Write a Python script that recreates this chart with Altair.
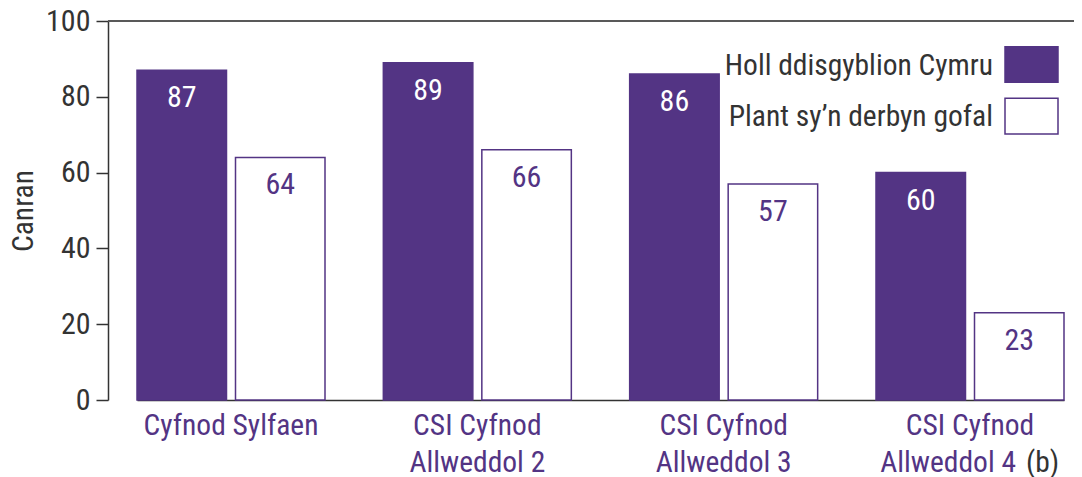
import altair as alt
import pandas as pd

# ---- data ----
categories = ["Cyfnod Sylfaen", "CSI Cyfnod Allweddol 2", "CSI Cyfnod Allweddol 3", "CSI Cyfnod Allweddol 4"]
label_line1 = ["Cyfnod Sylfaen", "CSI Cyfnod", "CSI Cyfnod", "CSI Cyfnod"]
label_line2 = ["", "Allweddol 2", "Allweddol 3", "Allweddol 4"]
label_note = ["", "", "", "(b)"]
series = ["Holl ddisgyblion Cymru", "Plant sy\u2019n derbyn gofal"]
all_pupils = [87, 89, 86, 60]
looked_after = [64, 66, 57, 23]
y_ticks = [0, 20, 40, 60, 80, 100]
y_title = "Canran"

# ---- style ----
PURPLE = "#533484"
GREY = "#333333"
FONT = "Noto Sans Condensed, Roboto Condensed, Roboto"
FS = 30
FSW = 29.5

rows = []
for c, a, b in zip(categories, all_pupils, looked_after):
    rows.append({"category": c, "series": series[0], "value": a})
    rows.append({"category": c, "series": series[1], "value": b})
df = pd.DataFrame(rows)

labels_df = pd.DataFrame({"category": categories, "line1": label_line1,
                          "line2": label_line2, "note": label_note})

x_enc = alt.X("category:N", sort=categories,
              scale=alt.Scale(range=[29, 956], paddingInner=0.2368, paddingOuter=0),
              axis=alt.Axis(labels=False, ticks=False, title=None,
                            domainColor=GREY, domainWidth=1.5))
xoff_enc = alt.XOffset("series:N", sort=series,
                       scale=alt.Scale(paddingInner=0.0914, paddingOuter=0))
y_enc = alt.Y("value:Q", scale=alt.Scale(domain=[0, 100], nice=False),
              axis=alt.Axis(values=y_ticks, title=y_title, grid=False,
                            domainColor=GREY, domainWidth=1.5,
                            tickColor=GREY, tickWidth=1.5, tickSize=12,
                            labelFont=FONT, labelFontSize=FS, labelColor=GREY,
                            labelPadding=6, titleFont=FONT, titleFontSize=FSW,
                            titleFontWeight="normal", titleColor=GREY,
                            titleAngle=-90, titleBaseline="alphabetic",
                            titleAlign="center", titleX=-76, titleY=189.5))

base = alt.Chart(df)

bars = base.mark_bar(stroke=PURPLE, strokeWidth=1.5).encode(
    x=x_enc, xOffset=xoff_enc, y=y_enc,
    fill=alt.Fill("series:N", sort=series,
                  scale=alt.Scale(domain=series, range=[PURPLE, "white"]),
                  legend=None),
)

values = base.mark_text(font=FONT, fontSize=FS, baseline="alphabetic", dy=37).encode(
    x=alt.X("category:N", sort=categories),
    xOffset=alt.XOffset("series:N", sort=series),
    y=alt.Y("value:Q"),
    text=alt.Text("value:Q"),
    color=alt.condition(alt.datum.series == series[0], alt.value("white"), alt.value(PURPLE)),
)

top_rule = alt.Chart(df).mark_rule(color="#5a5a5a", strokeWidth=1.5).encode(
    y=alt.datum(100)
)

lab = alt.Chart(labels_df)
line1 = lab.mark_text(font=FONT, fontSize=FSW, color=PURPLE, baseline="alphabetic").encode(
    x=alt.X("category:N", sort=categories), y=alt.value(414), text="line1:N")
line2 = lab.transform_filter(alt.datum.note == "").mark_text(
    font=FONT, fontSize=FSW, color=PURPLE, baseline="alphabetic").encode(
    x=alt.X("category:N", sort=categories), y=alt.value(451), text="line2:N")
line2n = lab.transform_filter(alt.datum.note != "").mark_text(
    font=FONT, fontSize=FSW, color=PURPLE, baseline="alphabetic", align="right", dx=46).encode(
    x=alt.X("category:N", sort=categories), y=alt.value(451), text="line2:N")
note = lab.transform_filter(alt.datum.note != "").mark_text(
    font=FONT, fontSize=FSW, color=GREY, baseline="alphabetic", align="left", dx=56).encode(
    x=alt.X("category:N", sort=categories), y=alt.value(451), text="note:N")

# ---- legend (manual, right-aligned labels left of swatches) ----
legend_layers = []
fills = [PURPLE, "white"]
for i, (name, f) in enumerate(zip(series, fills)):
    ldf = pd.DataFrame({"series": [name]})
    y0 = 25.7 + i * 51.6
    legend_layers.append(
        alt.Chart(ldf).mark_rect(fill=f, stroke=PURPLE, strokeWidth=1.5).encode(
            x=alt.value(897), x2=alt.value(950), y=alt.value(y0), y2=alt.value(y0 + 35.6))
    )
    legend_layers.append(
        alt.Chart(ldf).mark_text(font=FONT, fontSize=FSW, color=GREY, align="right",
                                 baseline="alphabetic").encode(
            x=alt.value(885), y=alt.value(y0 + 28), text="series:N")
    )

chart = alt.layer(bars, values, top_rule, line1, line2, line2n, note, *legend_layers).properties(
    width=966, height=379,
    autosize=alt.AutoSizeParams(type="none"),
    padding={"left": 100, "top": 13, "right": 0, "bottom": 77},
).configure_view(stroke=None)

chart.save("out.html", embed_options={"renderer": "svg", "actions": False})
